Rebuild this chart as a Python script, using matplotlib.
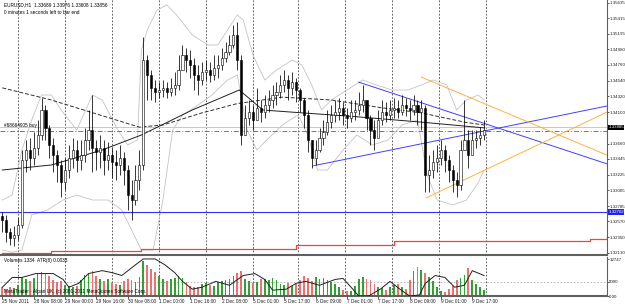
import numpy as np
import matplotlib
matplotlib.use("Agg")
import matplotlib.pyplot as plt
from matplotlib.patches import Rectangle

plt.rcParams["font.family"] = ["Liberation Sans", "DejaVu Sans"]

# ---------------- data (H1 bars, sampled every 2 hours) ----------------
bar_step = 2
closes = [1.3259,1.3242,1.3234,1.3238,1.3252,1.3343,1.3357,1.3346,1.3360,1.3378,
          1.3413,1.3388,1.3364,1.3350,1.3336,1.3312,1.3329,1.3346,1.3357,1.3343,
          1.3350,1.3371,1.3385,1.3360,1.3354,1.3360,1.3343,1.3350,1.3340,1.3336,
          1.3346,1.3329,1.3294,1.3287,1.3315,1.3336,1.3483,1.3462,1.3444,1.3438,
          1.3441,1.3444,1.3438,1.3444,1.3448,1.3469,1.3490,1.3483,1.3476,1.3462,
          1.3455,1.3466,1.3469,1.3462,1.3472,1.3476,1.3486,1.3494,1.3504,1.3518,
          1.3483,1.3378,1.3402,1.3410,1.3399,1.3416,1.3410,1.3420,1.3427,1.3434,
          1.3438,1.3448,1.3455,1.3444,1.3452,1.3441,1.3427,1.3406,1.3371,1.3346,
          1.3357,1.3374,1.3382,1.3396,1.3406,1.3410,1.3416,1.3406,1.3402,1.3410,
          1.3413,1.3420,1.3427,1.3402,1.3385,1.3374,1.3399,1.3410,1.3406,1.3413,
          1.3416,1.3410,1.3420,1.3416,1.3413,1.3420,1.3410,1.3416,1.3322,1.3329,
          1.3340,1.3346,1.3357,1.3343,1.3329,1.3315,1.3308,1.3357,1.3371,1.3350,
          1.3371,1.3374,1.3378,1.3385]
highs = [1.3270,1.3266,1.3248,1.3251,1.3262,1.3357,1.3371,1.3374,1.3382,1.3399,
         1.3430,1.3420,1.3392,1.3374,1.3357,1.3343,1.3346,1.3364,1.3374,1.3371,
         1.3371,1.3388,1.3413,1.3434,1.3371,1.3378,1.3371,1.3368,1.3360,1.3357,
         1.3364,1.3354,1.3336,1.3315,1.3336,1.3357,1.3515,1.3490,1.3469,1.3455,
         1.3452,1.3455,1.3452,1.3458,1.3466,1.3490,1.3504,1.3500,1.3497,1.3486,
         1.3476,1.3480,1.3483,1.3480,1.3490,1.3490,1.3500,1.3508,1.3518,1.3532,
         1.3536,1.3490,1.3420,1.3427,1.3420,1.3444,1.3427,1.3434,1.3441,1.3448,
         1.3452,1.3462,1.3469,1.3462,1.3466,1.3458,1.3444,1.3430,1.3413,1.3371,
         1.3371,1.3388,1.3399,1.3413,1.3420,1.3427,1.3430,1.3424,1.3416,1.3427,
         1.3427,1.3438,1.3448,1.3427,1.3406,1.3399,1.3413,1.3427,1.3424,1.3427,
         1.3430,1.3427,1.3434,1.3430,1.3427,1.3434,1.3427,1.3427,1.3420,1.3350,
         1.3357,1.3364,1.3371,1.3364,1.3350,1.3336,1.3326,1.3371,1.3427,1.3385,
         1.3385,1.3385,1.3389,1.3399]
lows = [1.3242,1.3228,1.3224,1.3223,1.3231,1.3248,1.3326,1.3329,1.3336,1.3350,
        1.3371,1.3371,1.3346,1.3326,1.3312,1.3291,1.3301,1.3318,1.3332,1.3326,
        1.3329,1.3340,1.3357,1.3326,1.3329,1.3332,1.3322,1.3329,1.3318,1.3315,
        1.3322,1.3308,1.3273,1.3259,1.3280,1.3301,1.3329,1.3427,1.3427,1.3424,
        1.3430,1.3431,1.3430,1.3433,1.3434,1.3441,1.3469,1.3466,1.3458,1.3441,
        1.3434,1.3448,1.3455,1.3452,1.3455,1.3458,1.3469,1.3480,1.3490,1.3500,
        1.3469,1.3364,1.3378,1.3392,1.3385,1.3399,1.3396,1.3402,1.3410,1.3416,
        1.3420,1.3430,1.3438,1.3427,1.3434,1.3424,1.3410,1.3388,1.3354,1.3332,
        1.3336,1.3354,1.3364,1.3378,1.3388,1.3396,1.3399,1.3392,1.3388,1.3396,
        1.3399,1.3406,1.3410,1.3385,1.3364,1.3357,1.3378,1.3392,1.3396,1.3399,
        1.3402,1.3402,1.3406,1.3405,1.3399,1.3406,1.3392,1.3385,1.3298,1.3298,
        1.3318,1.3326,1.3336,1.3326,1.3312,1.3298,1.3291,1.3301,1.3357,1.3332,
        1.3350,1.3360,1.3364,1.3371]
first_open = 1.3265

volumes = [3000,2400,3200,2600,3800,6500,5800,5200,6200,7600,8400,7800,7000,5500,4800,
           5200,3800,3400,3000,3600,5500,7200,8000,8600,6800,6000,5200,5800,4600,4200,
           3800,5200,6000,5600,4800,6500,12000,10800,9500,8200,7000,5800,5200,6000,6400,
           6800,6200,4800,3600,3000,3200,4000,4600,3800,3400,4800,5200,5600,6000,6800,
           7800,8500,6000,5200,4400,5000,5800,6000,5400,6200,5600,4200,3800,4600,3400,
           4000,5600,7000,6400,5200,6600,5800,6400,5600,5000,4200,3000,2200,1600,1800,
           3600,5800,6500,6000,5400,4200,3200,2600,2000,3000,3800,4200,3000,2400,5400,
           8800,10000,9000,7800,6600,5200,3200,1800,1500,2400,3600,5400,6200,7400,9600,
           5600,4200,3000,2200]

atr_bars = [0,5,10,17,26,31,34,39,44,51,56,61,68,72,78,83,88,92,97,102,109,116,123,
            129,134,138,145,150,155,162,170,174,179,182,187,193,198,203,208,213,216,
            221,226,231,236,240,246]
atr_vals = [0.0019,0.0029,0.0029,0.0033,0.0033,0.0027,0.0019,0.0023,0.0033,0.0036,
            0.0034,0.0031,0.0042,0.0048,0.0048,0.0042,0.0034,0.0025,0.0017,0.0019,
            0.0025,0.0021,0.0031,0.0033,0.0027,0.0016,0.0017,0.0023,0.0025,0.0021,
            0.0027,0.0028,0.0017,0.0010,0.0010,0.0017,0.0025,0.0017,0.0010,0.0011,
            0.0023,0.0031,0.0029,0.0019,0.0021,0.0036,0.0031]

# Bollinger-type envelopes (light grey)
bb_up_bars = [0,5,10,15,20,25,30,38,46,51,59,64,69,71,74,79,84,89,97,105,110,115,120,
              123,128,134,140,148,153,158,163,168,176,184,191,199,207,214,220,227,232,
              237,243,246]
bb_up = [1.3287,1.3294,1.3357,1.3399,1.3434,1.3434,1.3413,1.3385,1.3434,1.3427,1.3385,
         1.3364,1.3371,1.3497,1.3525,1.3553,1.3560,1.3546,1.3518,1.3504,1.3504,1.3525,
         1.3546,1.3539,1.3490,1.3455,1.3469,1.3483,1.3476,1.3448,1.3413,1.3427,1.3441,
         1.3455,1.3448,1.3441,1.3441,1.3448,1.3455,1.3448,1.3413,1.3427,1.3434,1.3427]
bb_lo_bars = [0,5,10,15,23,31,38,46,54,61,66,71,77,82,87,92,100,107,115,120,125,130,
              135,143,151,156,161,166,174,181,189,197,204,212,217,222,230,237,243,246]
bb_lo = [1.3217,1.3214,1.3217,1.3266,1.3273,1.3287,1.3294,1.3287,1.3287,1.3273,1.3245,
         1.3217,1.3217,1.3287,1.3385,1.3406,1.3420,1.3434,1.3455,1.3462,1.3385,1.3357,
         1.3371,1.3392,1.3406,1.3378,1.3329,1.3329,1.3357,1.3378,1.3364,1.3371,1.3392,
         1.3399,1.3322,1.3287,1.3280,1.3287,1.3311,1.3329]

ma_dash_bars = [0, 25, 51, 70, 82, 102, 120, 143, 168, 194, 214, 236, 246]
ma_dash = [1.3444, 1.3427, 1.3405, 1.3389, 1.3392, 1.3409, 1.3422, 1.3431, 1.3427,
           1.3416, 1.3409, 1.3396, 1.3392]
ma_solid_bars = [0, 25, 51, 71, 97, 121, 133, 153, 179, 214, 246]
ma_solid = [1.3329, 1.3336, 1.3357, 1.3378, 1.3413, 1.3441, 1.3413, 1.3409, 1.3404,
            1.3396, 1.3388]
red_bars = [0, 24, 25, 70, 71, 150, 200, 300, 309]
red_line = [1.3213, 1.3213, 1.3216, 1.3216, 1.3219, 1.3224, 1.3230, 1.3233, 1.3236]

# trend lines: (bar, price) pairs
blue_low = ([159, 309.5], [1.3335, 1.3419])
blue_up = ([182, 309.5], [1.3452, 1.3337])
orange_up = ([214, 309.5], [1.3459, 1.3349])
orange_low = ([216.5, 309.5], [1.3290, 1.3411])

bid_price = 1.33885
order_price = 1.3384
hline_price = 1.32702

yticks = [1.35635,1.35415,1.35195,1.34980,1.34760,1.34540,1.34320,1.34100,
          1.33660,1.33445,1.33225,1.33005,1.32785,1.32570,1.32350,1.32130]
xtick_bars = [0,16,32,48,64,80,96,112,128,144,160,176,192,208,224,240]
xtick_labels = ["25 Nov 2011","28 Nov 08:00","29 Nov 00:00","29 Nov 16:00",
                "30 Nov 08:00","1 Dec 00:00","1 Dec 16:00","2 Dec 08:00",
                "5 Dec 01:00","5 Dec 17:00","6 Dec 09:00","7 Dec 01:00",
                "7 Dec 17:00","8 Dec 09:00","9 Dec 01:00","9 Dec 17:00"]
day_bars = [8,32,56,80,104,128,151,175,199,223,247]

# ---------------- figure ----------------
W, H = 625, 304
fig = plt.figure(figsize=(W/100, H/100), dpi=100)
fs = 3.4
fsy = 3.15
ax = fig.add_axes([0, 1-255/H, 607/W, 255/H])
axv = fig.add_axes([0, 1-296/H, 607/W, 39/H])
XMIN, XMAX = -1.2, 308.8
YMIN, YMAX = 1.32100, 1.35670

for a in (ax, axv):
    a.set_xlim(XMIN, XMAX)
    for s in ("top", "left"):
        a.spines[s].set_visible(False)
    a.spines["right"].set_color("#606060")
    a.spines["bottom"].set_color("#606060")
    a.spines["bottom"].set_linewidth(1.5)
    for d in day_bars:
        a.axvline(d, color="#404040", lw=0.6, ls=(0, (2, 2)), zorder=0)

ax.set_ylim(YMIN, YMAX)
ax.yaxis.tick_right()
ax.set_yticks(yticks)
ax.set_yticklabels([f"{v:.5f}" for v in yticks], fontsize=fsy)
ax.tick_params(axis="y", length=1.5, width=0.5, pad=0.2, colors="#202020")
ax.set_xticks([])

bars = np.arange(len(closes)) * bar_step
opens = [first_open] + closes[:-1]

# envelopes, moving averages, levels
ax.plot(bb_up_bars, bb_up, color="#c4c4c4", lw=0.6, zorder=1)
ax.plot(bb_lo_bars, bb_lo, color="#c4c4c4", lw=0.6, zorder=1)
ax.plot(red_bars, red_line, color="#f04040", lw=0.9, drawstyle="steps-post", zorder=2)
ax.plot(ma_dash_bars, ma_dash, color="#303030", lw=0.7, ls=(0, (4, 2)), zorder=2)
ax.plot(ma_solid_bars, ma_solid, color="#202020", lw=0.7, zorder=2)

ax.axhline(hline_price, color="#3030ff", lw=0.8, zorder=2)
ax.axhline(bid_price, color="#c8c8c8", lw=0.7, zorder=1)
ax.axhline(order_price, color="#3aa03a", lw=0.7, ls=(0, (5, 2, 1, 2)), zorder=2)

ax.plot(*blue_low, color="#4040ff", lw=0.7, zorder=3)
ax.plot(*blue_up, color="#4040ff", lw=0.7, zorder=3)
ax.plot(*orange_up, color="#ffb040", lw=0.7, zorder=3)
ax.plot(*orange_low, color="#ffb040", lw=0.7, zorder=3)

# candles
for b, o, h, l, c in zip(bars, opens, highs, lows, closes):
    ax.vlines(b, l, h, color="black", lw=0.55, zorder=4)
    bot, top = min(o, c), max(o, c)
    face = "white" if c >= o else "black"
    ax.add_patch(Rectangle((b - 0.55, bot), 1.1, max(top - bot, 0.00003),
                           facecolor=face, edgecolor="black", lw=0.4, zorder=5))

# price labels on axis
for price, txt, col in ((bid_price, "1.33885", "black"), (hline_price, "1.32702", "#2020ff")):
    ax.text(1.002, (price - YMIN)/(YMAX - YMIN), txt, transform=ax.transAxes,
            fontsize=fsy, color="white", va="center", ha="left", zorder=10,
            bbox=dict(boxstyle="square,pad=0.12", fc=col, ec="none"), clip_on=False)

# texts
tx = 4 / 607
ax.text(tx, 0.99, "EURUSD,H1  1.33689 1.33976 1.33608 1.33856", transform=ax.transAxes,
        fontsize=fs, va="top", ha="left")
ax.text(tx, 0.962, "0 minutes 1 seconds left to bar end", transform=ax.transAxes,
        fontsize=fs, va="top", ha="left")
ax.text(tx, (order_price - YMIN)/(YMAX - YMIN) + 0.012, "#68664905 buy",
        transform=ax.transAxes, fontsize=fs, va="bottom", ha="left")

# volume panel
VMAX = 12747
axv.set_ylim(0, VMAX * 1.06)
vol_colors = ["#33a033" if c >= o else "#f07070" for o, c in zip(opens, closes)]
axv.bar(bars, volumes, width=0.9, color=vol_colors, zorder=2)
axv.axhline(5000, color="#b0b0b0", lw=0.6, ls=(0, (2, 2)), zorder=1)
atr_ax = axv.twinx()
atr_ax.set_ylim(0.0010, 0.0050)
atr_ax.plot(atr_bars, atr_vals, color="#202020", lw=0.7)
atr_ax.set_yticks([])
for s in atr_ax.spines.values():
    s.set_visible(False)
axv.yaxis.tick_right()
axv.set_yticks([VMAX, 5000, 0])
axv.set_yticklabels(["12747", "5000", "0.00"], fontsize=fsy)
axv.tick_params(axis="y", length=1.5, width=0.5, pad=0.2, colors="#202020",
                left=False, labelleft=False, right=True, labelright=True)
axv.set_xticks(xtick_bars)
axv.set_xticklabels(xtick_labels, fontsize=fs, ha="left")
axv.tick_params(axis="x", length=2, width=0.5, pad=0.5, colors="#202020")
axv.text(tx, 0.97, "Volumes 1334  ATR(8) 0.0033", transform=axv.transAxes,
         fontsize=fs, va="top", ha="left")
axv.text(tx, 0.04, "MetaTrader - Alpari UK, (c) 2001-2011 MetaQuotes Software Corp.",
         transform=axv.transAxes, fontsize=fs, va="bottom", ha="left")

fig.savefig("out.png", dpi=100)
